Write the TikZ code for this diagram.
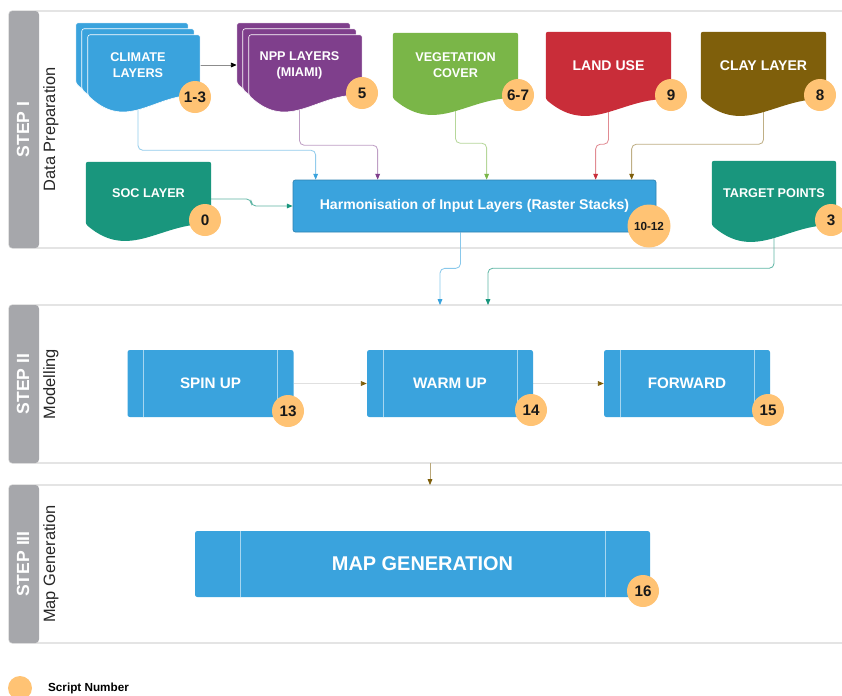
\documentclass[tikz,border=0pt]{standalone}
\usepackage{fontspec}
\setmainfont{Liberation Sans}
\usepackage{tikz}
\usetikzlibrary{arrows.meta,calc}

\definecolor{climblue}{HTML}{3AA3DD}
\definecolor{nppviolet}{HTML}{7F3F8C}
\definecolor{veggreen}{HTML}{7AB648}
\definecolor{landred}{HTML}{C92D39}
\definecolor{claybrown}{HTML}{7F5F0B}
\definecolor{soilteal}{HTML}{19967D}
\definecolor{badgeorange}{HTML}{FFC374}
\definecolor{lanegray}{HTML}{A6A7AB}
\definecolor{laneline}{HTML}{D6D6D6}

\pgfdeclarelayer{lanes}
\pgfdeclarelayer{lines}
\pgfdeclarelayer{shapes}
\pgfsetlayers{lanes,lines,shapes,main}

% document shape with wavy bottom
\newcommand{\docshape}[3]{%
  \path[#1, rounded corners=2pt] let \p1=(#2), \p2=(#3) in
    (\x1,\y2) -- (\x1,\y1) -- (\x2,\y1) -- (\x2,\y2)
    .. controls ({\x1+0.6*(\x2-\x1)},{\y2+1.7pt}) and ({\x1+0.35*(\x2-\x1)},{\y2-32pt}) .. (\x1,\y2) -- cycle;
}
% three stacked documents
\newcommand{\stackdoc}[2]{%
  \docshape{#1}{$(#2.north west)+(0,-12)$}{$(#2.south east)+(-12,-12)$}
  \docshape{#1}{$(#2.north west)+(6,-6)$}{$(#2.south east)+(-6,-6)$}
  \docshape{#1}{$(#2.north west)+(12,0)$}{#2.south east}
}

\begin{document}
\begin{tikzpicture}[x={(0.03cm,0)}, y={(0,-0.03cm)},
    boxsize/.style 2 args={minimum width=#1*0.03cm, minimum height=#2*0.03cm},
    doc/.style={inner sep=0pt, align=center, text=white, font=\bfseries\fontsize{10.8}{13.8}\selectfont},
    bigdoc/.style={doc, font=\bfseries\fontsize{12}{14}\selectfont},
    stackbox/.style={fill=climblue, draw=climblue!80!black, line width=0.6pt, rounded corners=2pt, inner sep=0pt, text=white, font=\bfseries\fontsize{12}{14}\selectfont},
    procbox/.style={fill=climblue, rounded corners=2pt, inner sep=0pt, text=white, font=\bfseries\fontsize{13}{15}\selectfont,
      path picture={\draw[white!55!climblue, line width=0.5pt]
        ($(path picture bounding box.north west)+(#1,0)$) -- ($(path picture bounding box.south west)+(#1,0)$)
        ($(path picture bounding box.north east)+(-#1,0)$) -- ($(path picture bounding box.south east)+(-#1,0)$);}},
    badge/.style={circle, fill=badgeorange, inner sep=0pt, minimum size=32*0.03cm, text=black!90, font=\bfseries\fontsize{13}{13}\selectfont},
    lanebody/.style={fill=white, draw=laneline, line width=1.2pt, rounded corners=3pt},
    lanebar/.style={fill=lanegray, rounded corners=3pt},
    steplabel/.style={rotate=90, text=white, font=\bfseries\fontsize{15}{15}\selectfont},
    phaselabel/.style={rotate=90, text=black!85, font=\fontsize{14}{14}\selectfont},
    link/.style 2 args={draw=#1, line width=0.7pt, rounded corners=4pt, -{Triangle[length=5pt,width=4pt,color=#2]}}]

    \useasboundingbox (0,0) rectangle (842,695);

    % lanes
    \begin{pgfonlayer}{lanes}
    \foreach \yt/\yb/\st/\nm [count=\i] in {11/248/STEP I/Data Preparation, 305/463/STEP II/Modelling, 485/643/STEP III/Map Generation} {
        \draw[lanebody] (9,\yt) rectangle (870,\yb);
        \fill[lanebar] (39,\yt) -- (9,\yt) -- (9,\yb) -- (39,\yb) -- cycle;
        \node[steplabel] (step\i) at (23,{(\yt+\yb)/2}) {\st};
        \node[phaselabel] (phase\i) at (51,{(\yt+\yb)/2}) {\nm};
    }
    \end{pgfonlayer}

    % input layers
    \node[doc, boxsize={124}{60}] (climate) at (138,65) {CLIMATE\\LAYERS};
    \node[doc, boxsize={125}{60}] (npp) at (299.5,65) {NPP LAYERS\\(MIAMI)};
    \node[doc, boxsize={125}{65}] (veg) at (455.5,65.5) {VEGETATION\\COVER};
    \node[bigdoc, boxsize={125}{67}] (land) at (608.5,65.5) {LAND USE};
    \node[bigdoc, boxsize={125}{67}] (clay) at (763.5,65.5) {CLAY LAYER};
    \node[doc, boxsize={125}{62}] (soc) at (148.5,193) {SOC LAYER};
    \node[doc, boxsize={124}{64}] (target) at (774,193) {TARGET POINTS};

    \begin{pgfonlayer}{shapes}
    \stackdoc{fill=climblue, draw=white, line width=0.5pt}{climate}
    \stackdoc{fill=nppviolet, draw=white, line width=0.5pt}{npp}
    \foreach \nd/\cl in {veg/veggreen, land/landred, clay/claybrown, soc/soilteal, target/soilteal}
        \docshape{fill=\cl}{\nd.north west}{\nd.south east};
    \end{pgfonlayer}

    % harmonisation
    \node[stackbox, boxsize={363}{52}] (harm) at (474.5,206) {Harmonisation of Input Layers (Raster Stacks)};

    % modelling
    \node[procbox=16, boxsize={166}{67}] (spin) at (210.5,383.5) {SPIN UP};
    \node[procbox=16, boxsize={166}{67}] (warm) at (450,383.5) {WARM UP};
    \node[procbox=16, boxsize={166}{67}] (fwd) at (687,383.5) {FORWARD};

    % map generation
    \node[procbox=45, boxsize={455}{66}, font=\bfseries\fontsize{17}{19}\selectfont] (mapgen) at (422.5,564) {MAP GENERATION};

    % script numbers
    \node[badge] (n1to3) at (195,97) {1-3};
    \node[badge] (n5) at (362,93) {5};
    \node[badge] (n6to7) at (518,95) {6-7};
    \node[badge] (n9) at (671,95) {9};
    \node[badge] (n8) at (820,95) {8};
    \node[badge] (n0) at (205,220) {0};
    \node[badge, minimum size=43*0.03cm, font=\bfseries\fontsize{10}{10}\selectfont] (n10to12) at (649,226) {10-12};
    \node[badge] (n3) at (831,220) {3};
    \node[badge] (n13) at (288,411) {13};
    \node[badge] (n14) at (531,410) {14};
    \node[badge] (n15) at (768,410) {15};
    \node[badge] (n16) at (643,591) {16};

    % legend
    \node[badge, minimum size=24*0.03cm] (legdot) at (20,688) {};
    \node[anchor=west, font=\bfseries\fontsize{10}{10}\selectfont] (legtext) at (44,688) {Script Number};

    % connectors
    \coordinate (in2a) at (440,305);
    \coordinate (in2b) at (488,305);
    \coordinate (out2) at (430,463);
    \coordinate (in3) at (430,485);

    \begin{pgfonlayer}{lines}
    \draw[link={black!45}{black}] (climate.east) -- (npp.west);
    \draw[link={climblue!55}{climblue}] (climate.south) -- ++(0,55) -| ($(harm.north west)+(23,0)$);
    \draw[link={nppviolet!50}{nppviolet}] (npp.south) -- ++(0,50) -| ($(harm.north west)+(85,0)$);
    \draw[link={veggreen!55}{veggreen}] (veg.south) -- ++(0,45) -| ($(harm.north west)+(194,0)$);
    \draw[link={landred!55}{landred}] (land.south) -- ++(0,45) -| ($(harm.north west)+(303,0)$);
    \draw[link={claybrown!50}{claybrown}] (clay.south) -- ++(0,45) -| ($(harm.north west)+(339,0)$);
    \draw[link={soilteal!70}{soilteal}] ($(soc.east)+(0,6)$) -- ++(40,0) |- (harm.west);
    \draw[link={climblue!60}{climblue}] ($(harm.south)+(-14,0)$) -- ++(0,36) -| (in2a);
    \draw[link={soilteal!70}{soilteal}] (target.south) -- ++(0,43) -| (in2b);
    \draw[link={black!12}{claybrown}] (spin) -- (warm);
    \draw[link={black!12}{claybrown}] (warm) -- (fwd);
    \draw[link={claybrown!55}{claybrown}] (out2) -- (in3);
    \end{pgfonlayer}

\end{tikzpicture}
\end{document}
